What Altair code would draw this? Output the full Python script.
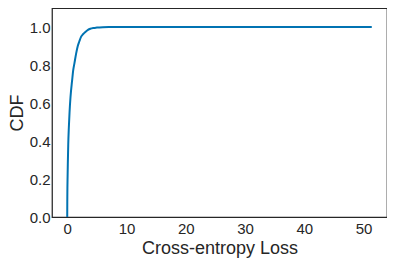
import altair as alt
import pandas as pd

loss = [0, 0.01, 0.03, 0.06, 0.10, 0.17, 0.27, 0.39, 0.55, 0.83, 1.0, 1.22, 1.5,
        1.78, 2.05, 2.33, 2.7, 3.06, 3.5, 3.9, 4.4, 5.0, 6.0, 7.0, 10, 20, 30, 40, 51.4]
cdf = [0, 0.08, 0.15, 0.21, 0.28, 0.38, 0.47, 0.55, 0.63, 0.72, 0.77, 0.81, 0.86,
       0.90, 0.925, 0.948, 0.963, 0.974, 0.985, 0.991, 0.995, 0.997, 0.999, 1.0,
       1.0, 1.0, 1.0, 1.0, 1.0]
x_ticks = [0, 10, 20, 30, 40, 50]
y_ticks = [0, 0.2, 0.4, 0.6, 0.8, 1.0]

df = pd.DataFrame({"loss": loss, "cdf": cdf})

FONT = "Liberation Sans"
DARK = "#262626"

chart = alt.Chart(df).mark_line(
    color="#0173b2", strokeWidth=2, interpolate="monotone", clip=True
).encode(
    x=alt.X("loss:Q", title="Cross-entropy Loss",
            scale=alt.Scale(domain=[-2.57, 53.97], nice=False, zero=False),
            axis=alt.Axis(values=x_ticks, format="d", labelPadding=4,
                          titlePadding=3)),
    y=alt.Y("cdf:Q", title="CDF",
            scale=alt.Scale(domain=[0, 1.1], nice=False),
            axis=alt.Axis(values=y_ticks, format=".1f", labelPadding=2,
                          titlePadding=3)),
).properties(
    width=335, height=209,
    autosize=alt.AutoSizeParams(type="none"),
    padding={"left": 44, "top": 0, "right": 0, "bottom": 42},
).configure_view(
    stroke=DARK, strokeWidth=1.25
).configure_axis(
    grid=False, domain=False, ticks=False,
    labelFont=FONT, labelFontSize=15, labelColor=DARK,
    titleFont=FONT, titleFontSize=18, titleColor=DARK, titleFontWeight="normal",
)

chart.save("out.html", embed_options={"renderer": "svg", "actions": False})
